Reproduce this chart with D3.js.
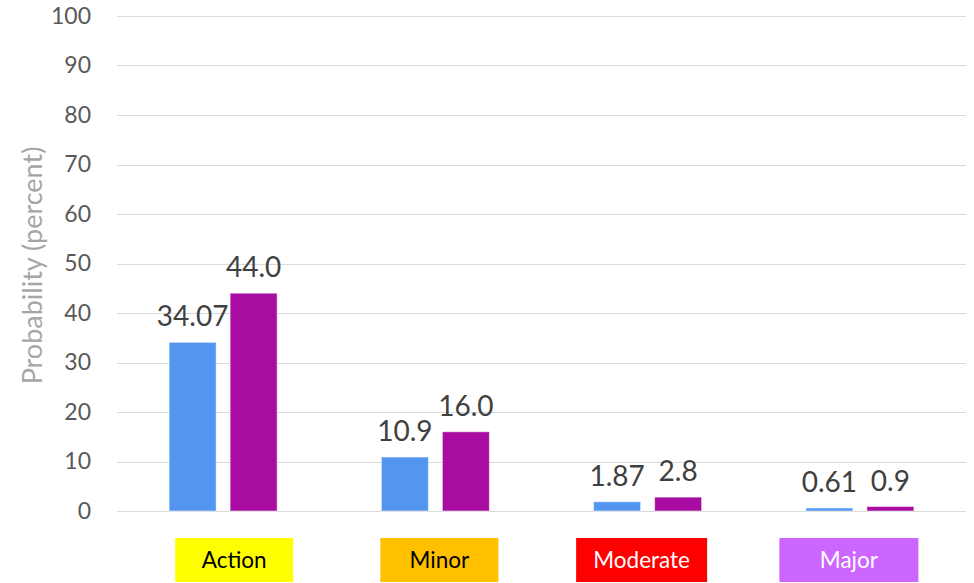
<!DOCTYPE html>
<html>
<head>
<meta charset="utf-8">
<script src="https://cdn.jsdelivr.net/npm/d3@7"></script>
<style>
  body { margin: 0; background: #fff; }
  svg { font-family: Lato, "Open Sans", sans-serif; }
</style>
</head>
<body>
<div id="chart"></div>
<script>
const categories = ["Action", "Minor", "Moderate", "Major"];
const seriesA = [34.07, 10.9, 1.87, 0.61];
const seriesB = [44.0, 16.0, 2.8, 0.9];
const labelsA = ["34.07", "10.9", "1.87", "0.61"];
const labelsB = ["44.0", "16.0", "2.8", "0.9"];
const yTicks = [0, 10, 20, 30, 40, 50, 60, 70, 80, 90, 100];

// look of the category boxes under the axis
const boxStyle = [
  { fill: "#FFFF00", text: "#000", w: 118, dx: 11 },
  { fill: "#FFC000", text: "#000", w: 118, dx: 4 },
  { fill: "#FF0000", text: "#fff", w: 131, dx: -6 },
  { fill: "#CC66FF", text: "#fff", w: 139, dx: -11 }
];

const W = 974, H = 583;
const margin = { top: 16, right: 8, bottom: 72, left: 117 };
const innerW = W - margin.left - margin.right;
const innerH = H - margin.top - margin.bottom;

const svg = d3.select("#chart").append("svg")
    .attr("width", W)
    .attr("height", H);

const g = svg.append("g")
    .attr("transform", "translate(" + margin.left + "," + margin.top + ")");

const x = d3.scaleBand()
    .domain(categories)
    .range([0, innerW]);

const y = d3.scaleLinear()
    .domain([0, 100])
    .range([innerH, 0]);

const barW = 47, gap = 14;

// gridlines
g.selectAll("line.grid")
  .data(yTicks)
  .enter()
  .append("line")
    .attr("class", "grid")
    .attr("x1", 0)
    .attr("x2", innerW)
    .attr("y1", d => Math.round(y(d)) + 0.5)
    .attr("y2", d => Math.round(y(d)) + 0.5)
    .attr("stroke", "#d9d9d9")
    .attr("stroke-width", 1);

// y axis labels
const yAxis = g.append("g")
    .call(d3.axisLeft(y).tickValues(yTicks).tickSize(0).tickPadding(26));
yAxis.select(".domain").remove();
yAxis.selectAll("text")
    .attr("font-size", 23)
    .attr("fill", "#595959")
    .attr("font-family", "Lato, sans-serif");

svg.append("text")
    .attr("transform", "translate(42," + (margin.top + innerH / 2 + 2) + ") rotate(-90)")
    .attr("text-anchor", "middle")
    .attr("font-size", 27)
    .attr("fill", "#a6a6a6")
    .text("Probability (percent)");

// bars
const series = [
  { values: seriesA, labels: labelsA, color: "#5296F2", off: -(gap / 2 + barW) },
  { values: seriesB, labels: labelsB, color: "#A80CA0", off: gap / 2 }
];

series.forEach(s => {
  g.selectAll(null)
    .data(s.values)
    .enter()
    .append("rect")
      .attr("x", (d, i) => x(categories[i]) + x.bandwidth() / 2 + s.off)
      .attr("y", d => y(d))
      .attr("width", barW)
      .attr("height", d => y(0) - y(d))
      .attr("fill", s.color)
      .attr("stroke", "#fff")
      .attr("stroke-opacity", 0.5)
      .attr("stroke-width", 1);

  g.selectAll(null)
    .data(s.values)
    .enter()
    .append("text")
      .attr("x", (d, i) => x(categories[i]) + x.bandwidth() / 2 + s.off + barW / 2)
      .attr("y", d => y(d) - 16)
      .attr("text-anchor", "middle")
      .attr("font-size", 28)
      .attr("fill", "#404040")
      .text((d, i) => s.labels[i]);
});

// category boxes
const boxes = g.selectAll("g.cat")
  .data(categories)
  .enter()
  .append("g")
    .attr("class", "cat")
    .attr("transform", (d, i) => "translate(" + (x(d) + x.bandwidth() / 2 + boxStyle[i].dx) + "," + (innerH + 27) + ")");

boxes.append("rect")
    .attr("x", (d, i) => -boxStyle[i].w / 2)
    .attr("y", 0)
    .attr("width", (d, i) => boxStyle[i].w)
    .attr("height", 44)
    .attr("fill", (d, i) => boxStyle[i].fill);

boxes.append("text")
    .attr("x", 0)
    .attr("y", 30)
    .attr("text-anchor", "middle")
    .attr("font-size", 22.5)
    .attr("fill", (d, i) => boxStyle[i].text)
    .text(d => d);
</script>
</body>
</html>
